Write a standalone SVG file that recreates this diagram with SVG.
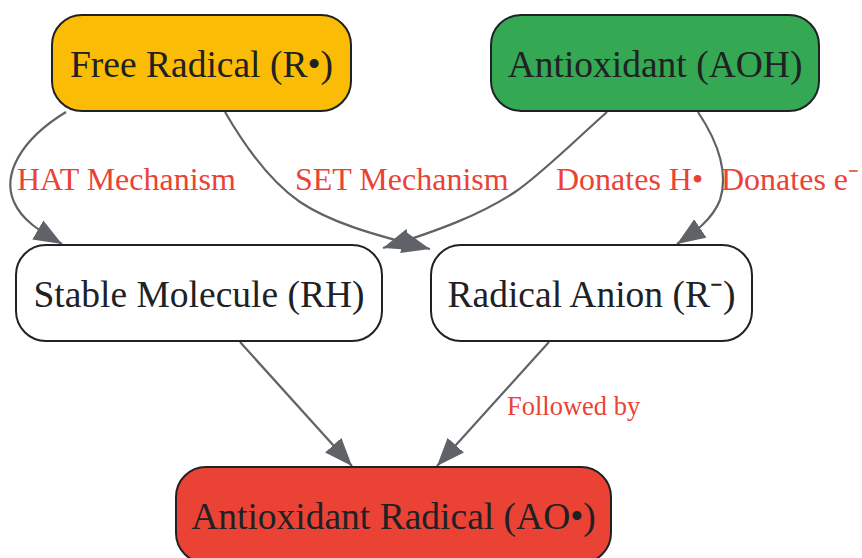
<svg xmlns="http://www.w3.org/2000/svg" width="862" height="558" viewBox="0 0 862 558">
<style>
.node rect{stroke:#202124;stroke-width:2}
.node text{font-family:"Liberation Serif","Times New Roman",serif;font-size:37.5px;fill:#202124;text-anchor:middle}
.edge{fill:none;stroke:#5F6368;stroke-width:2.2}
.lbl{font-family:"Liberation Serif","Times New Roman",serif;font-size:32px;fill:#EA4335}
.lbl.small{font-size:26.5px}
</style>
<defs>
<marker id="arr" markerUnits="userSpaceOnUse" markerWidth="30" markerHeight="24" refX="28" refY="11" orient="auto">
<path d="M0,0 L28,11 L0,22 z" fill="#5F6368"/>
</marker>
</defs>
<rect width="862" height="558" fill="#ffffff"/>
<g id="connectors">
<path class="edge" marker-end="url(#arr)" d="M66,112 C20,140 2,175 14,202 C22,220 38,230 62,244"/>
<path class="edge" marker-end="url(#arr)" d="M225,112 C250,155 275,185 300,202 C330,222 370,234 430,249"/>
<path class="edge" marker-end="url(#arr)" d="M607,112 C570,145 540,175 515,192 C480,215 440,230 383,248"/>
<path class="edge" marker-end="url(#arr)" d="M698,112 C720,145 728,175 720,200 C712,220 695,232 677,244"/>
<path class="edge" marker-end="url(#arr)" d="M240,342 L352,466"/>
<path class="edge" marker-end="url(#arr)" d="M549,342 L437,466"/>
<text class="lbl" x="17" y="190">HAT Mechanism</text>
<text class="lbl" x="295" y="190">SET Mechanism</text>
<text class="lbl" x="556" y="190">Donates H•</text>
<text class="lbl" x="721" y="190">Donates e⁻</text>
<text class="lbl small" x="507" y="415">Followed by</text>
</g>
<g id="free_radical" class="node">
<rect x="52" y="15" width="299" height="96" rx="30" fill="#FBBC05"/>
<text x="201.5" y="77">Free Radical (R•)</text>
</g>
<g id="antioxidant" class="node">
<rect x="491" y="15" width="328" height="96" rx="30" fill="#34A853"/>
<text x="655" y="77">Antioxidant (AOH)</text>
</g>
<g id="stable_molecule" class="node">
<rect x="16" y="245" width="366" height="96" rx="30" fill="#FFFFFF"/>
<text x="199" y="307">Stable Molecule (RH)</text>
</g>
<g id="radical_anion" class="node">
<rect x="431" y="245" width="321" height="96" rx="30" fill="#FFFFFF"/>
<text x="591.5" y="307">Radical Anion (R⁻)</text>
</g>
<g id="antioxidant_radical" class="node">
<rect x="176" y="467" width="435" height="96" rx="30" fill="#EA4335"/>
<text x="393.5" y="529">Antioxidant Radical (AO•)</text>
</g>
</svg>
